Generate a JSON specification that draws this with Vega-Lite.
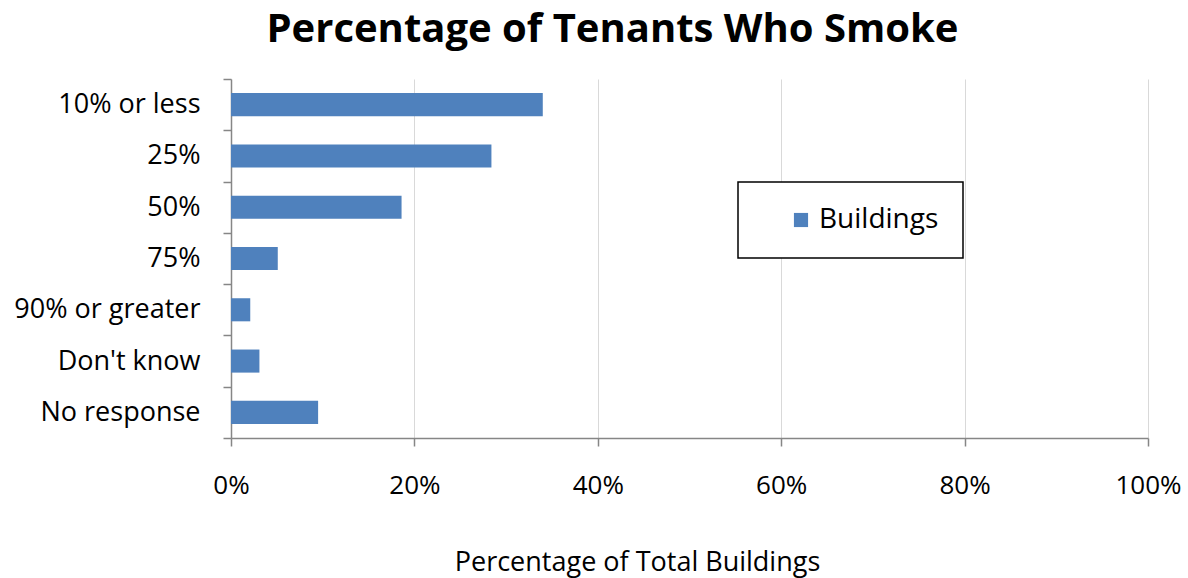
{
  "$schema": "https://vega.github.io/schema/vega-lite/v6.json",
  "width": 917,
  "height": 359,
  "autosize": {"type": "none"},
  "padding": {"left": 231, "top": 79, "right": 40, "bottom": 140},
  "background": "white",
  "config": {"legend": {"strokeWidth": 1.5}, "view": {"stroke": null}},
  "title": {
    "text": "Percentage of Tenants Who Smoke",
    "font": "Open Sans",
    "fontSize": 40,
    "fontWeight": "bold",
    "color": "black",
    "anchor": "middle",
    "frame": "group",
    "dx": -77,
    "dy": 53,
    "baseline": "bottom",
    "offset": 28
  },
  "data": {
    "values": [
      {"category": "10% or less", "value": 0.340, "series": "Buildings"},
      {"category": "25%", "value": 0.284, "series": "Buildings"},
      {"category": "50%", "value": 0.186, "series": "Buildings"},
      {"category": "75%", "value": 0.051, "series": "Buildings"},
      {"category": "90% or greater", "value": 0.021, "series": "Buildings"},
      {"category": "Don't know", "value": 0.031, "series": "Buildings"},
      {"category": "No response", "value": 0.095, "series": "Buildings"}
    ]
  },
  "mark": {"type": "bar", "height": {"band": 0.45}},
  "encoding": {
    "y": {
      "field": "category",
      "type": "nominal",
      "sort": null,
      "scale": {"paddingInner": 0, "paddingOuter": 0},
      "axis": {
        "title": null,
        "tickBand": "extent",
        "tickSize": 8,
        "tickColor": "#868686",
        "domainColor": "#868686",
        "domainWidth": 1.5,
        "tickWidth": 1.5,
        "labelFont": "Open Sans",
        "labelFontSize": 27,
        "labelColor": "black",
        "labelPadding": 23,
        "labelLimit": 400,
        "grid": false
      }
    },
    "x": {
      "field": "value",
      "type": "quantitative",
      "scale": {"domain": [0, 1], "nice": false},
      "axis": {
        "title": "Percentage of Total Buildings",
        "titleFont": "Open Sans",
        "titleFontSize": 27,
        "titleFontWeight": "normal",
        "titleColor": "black",
        "titleX": 406,
        "titleY": 132,
        "titleBaseline": "alphabetic",
        "titleAnchor": "middle",
        "values": [0, 0.2, 0.4, 0.6, 0.8, 1],
        "format": ".0%",
        "labelFont": "Open Sans",
        "labelFontSize": 26,
        "labelColor": "black",
        "labelPadding": 26,
        "labelFlush": false,
        "tickSize": 8,
        "tickColor": "#868686",
        "domainColor": "#868686",
        "domainWidth": 1.5,
        "tickWidth": 1.5,
        "grid": true,
        "gridColor": "#d9d9d9",
        "gridWidth": 1
      }
    },
    "color": {
      "field": "series",
      "type": "nominal",
      "scale": {"range": ["#4F81BD"]},
      "legend": {
        "title": null,
        "orient": "none",
        "legendX": 507,
        "legendY": 103,
        "strokeColor": "black",
        "fillColor": "white",
        "padding": 24,
        "symbolType": "square",
        "symbolSize": 200,
        "symbolStrokeWidth": 0,
        "symbolOffset": 25,
        "labelOffset": 4,
        "labelFont": "Open Sans",
        "labelFontSize": 28,
        "labelColor": "black"
      }
    }
  }
}
